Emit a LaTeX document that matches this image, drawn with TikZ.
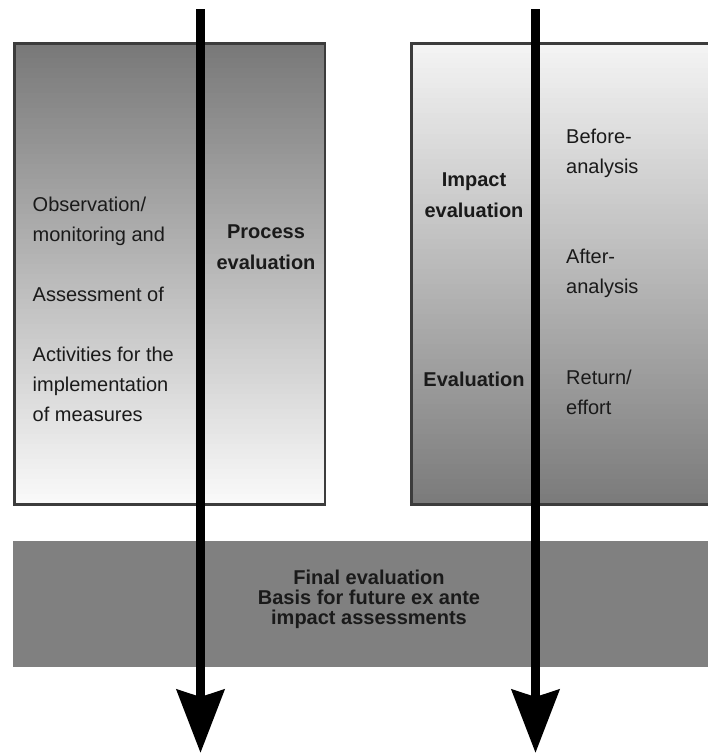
\documentclass[tikz,border=0pt]{standalone}
\usepackage{fontspec}
\setmainfont{Liberation Sans}
\usetikzlibrary{arrows.meta}

\definecolor{edgegrey}{HTML}{3C3C3C}
\definecolor{textgrey}{HTML}{1A1A1A}

\tikzset{
  panel/.style={draw=edgegrey, line width=2.5pt, rectangle, anchor=north west,
                inner sep=0pt, outer sep=0pt},
  band/.style={fill=black!50, rectangle, anchor=north west, inner sep=0pt, outer sep=0pt},
  plain/.style={text=textgrey, inner sep=0pt, font=\fontsize{20}{30}\selectfont},
  heading/.style={plain, font=\fontsize{20}{30.5}\selectfont\bfseries, align=center},
  flow/.style={line width=9.5pt, -{Stealth[length=63pt, width=47pt, inset=7pt]}},
}

\begin{document}
\begin{tikzpicture}[x=1pt, y=-1pt]
  \path[use as bounding box, clip] (0,0) rectangle (708,753);

  % linear grey ramps inside the two panels, drawn as thin strips
  \foreach \i in {0,...,91} {
    \pgfmathsetmacro{\ytop}{43.3 + \i*5.01304}
    \pgfmathsetmacro{\ybot}{43.3 + (\i+1)*5.01304 + 0.6}
    \pgfmathsetmacro{\darkA}{53 - 0.55435*(\i+0.5)}
    \pgfmathsetmacro{\darkB}{4 + 0.52174*(\i+0.5)}
    \fill[black!\darkA] (14.3,\ytop) rectangle (325,\ybot);
    \fill[black!\darkB] (411.3,\ytop) rectangle (741.3,\ybot);
  }
  \fill[white] (0,504.5) rectangle (708,540);

  % the two evaluation panels and the final evaluation band
  \node[panel, minimum width=310.7pt, minimum height=461.2pt] (procpanel) at (14.3,43.3) {};
  \node[panel, minimum width=330pt, minimum height=461.2pt] (imppanel) at (411.3,43.3) {};
  \node[band, minimum width=720pt, minimum height=125.5pt] (finalband) at (13,541) {};

  % left panel texts
  \node[plain, anchor=base west, align=left] (activities) at (32.5,421)
    {Observation/\\monitoring and\\[30pt]Assessment of\\[30pt]Activities for the\\implementation\\of measures};
  \node[heading, anchor=base] (process) at (266,269) {Process\\evaluation};

  % right panel texts
  \node[heading, anchor=base] (impact) at (474,217) {Impact\\evaluation};
  \node[heading, anchor=base] (evaluation) at (474,386) {Evaluation};
  \node[plain, anchor=base west, align=left] (before) at (566,173) {Before-\\analysis};
  \node[plain, anchor=base west, align=left] (after) at (566,293.5) {After-\\analysis};
  \node[plain, anchor=base west, align=left] (return) at (566,414) {Return/\\effort};

  % band text
  \node[plain, anchor=base, align=center, font=\fontsize{20}{20}\selectfont\bfseries] (final) at (369,624.3)
    {Final evaluation\\Basis for future ex ante\\impact assessments};

  % the two flow arrows
  \coordinate (flowAtop) at (200.5,9);
  \coordinate (flowAend) at (200.5,753);
  \coordinate (flowBtop) at (535.5,9);
  \coordinate (flowBend) at (535.5,753);
  \draw[flow] (flowAtop) -- (flowAend);
  \draw[flow] (flowBtop) -- (flowBend);
\end{tikzpicture}
\end{document}
